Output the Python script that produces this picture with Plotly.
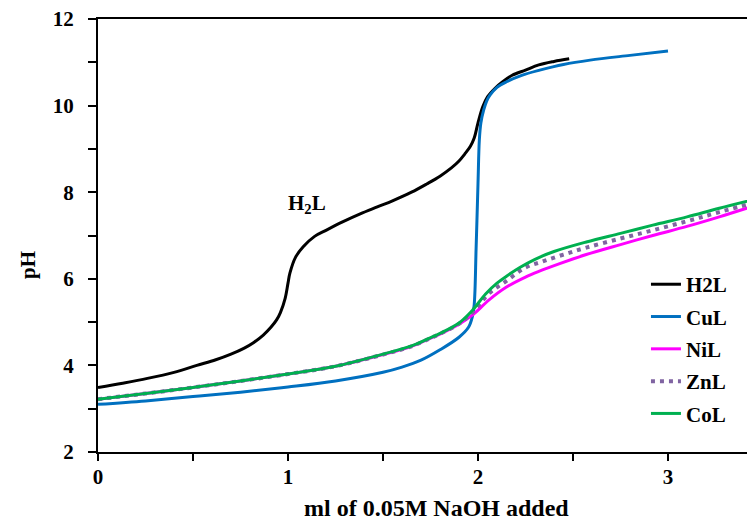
import plotly.graph_objects as go

# ---------------- data ----------------
h2l_x = [0, 0.13, 0.26, 0.40, 0.52, 0.62, 0.70, 0.77, 0.82, 0.87, 0.91, 0.94, 0.96, 0.985, 1.00, 1.01,
         1.04, 1.08, 1.14, 1.20, 1.29, 1.38, 1.47, 1.55, 1.65, 1.73, 1.80, 1.86, 1.90, 1.93, 1.96, 1.98, 2.00,
         2.025, 2.05, 2.09, 2.13, 2.18, 2.25, 2.32, 2.40, 2.48]
h2l_y = [3.49, 3.59, 3.70, 3.84, 4.00, 4.13, 4.26, 4.40, 4.53, 4.70, 4.88, 5.05, 5.22, 5.55, 5.90, 6.13,
         6.50, 6.74, 6.98, 7.12, 7.32, 7.50, 7.66, 7.80, 8.00, 8.19, 8.37, 8.56, 8.72, 8.88, 9.06, 9.25, 9.60,
         9.97, 10.20, 10.40, 10.55, 10.70, 10.82, 10.94, 11.02, 11.08]

cul_x = [0, 0.25, 0.50, 0.75, 1.00, 1.25, 1.50, 1.60, 1.70, 1.80, 1.90, 1.95, 1.97, 1.98, 1.99, 2.00,
         2.007, 2.015, 2.03, 2.045, 2.063, 2.10, 2.15, 2.23, 2.325, 2.45, 2.59, 2.80, 3.00]
cul_y = [3.10, 3.18, 3.28, 3.38, 3.50, 3.64, 3.84, 3.96, 4.12, 4.36, 4.65, 4.88, 5.12, 5.40, 6.70, 8.20,
         9.20, 9.60, 9.90, 10.10, 10.24, 10.42, 10.55, 10.70, 10.82, 10.95, 11.05, 11.16, 11.26]

nil_x = [0, 0.25, 0.50, 0.75, 1.00, 1.25, 1.50, 1.65, 1.745, 1.80, 1.90, 1.97, 2.06, 2.15, 2.25, 2.32,
         2.43, 2.57, 2.75, 2.92, 3.10, 3.27, 3.50]
nil_y = [3.22, 3.35, 3.49, 3.64, 3.80, 3.98, 4.25, 4.44, 4.62, 4.72, 4.95, 5.16, 5.52, 5.81, 6.04, 6.17,
         6.35, 6.56, 6.79, 7.00, 7.21, 7.43, 7.75]

znl_x = [0, 0.25, 0.50, 0.75, 1.00, 1.25, 1.50, 1.65, 1.745, 1.80, 1.90, 1.97, 2.06, 2.15, 2.245, 2.34,
         2.45, 2.57, 2.75, 2.92, 3.10, 3.27, 3.50]
znl_y = [3.22, 3.35, 3.49, 3.64, 3.80, 3.98, 4.25, 4.44, 4.62, 4.73, 4.96, 5.22, 5.67, 5.95, 6.25, 6.40,
         6.56, 6.72, 6.93, 7.12, 7.33, 7.54, 7.81]

col_x = [0, 0.25, 0.50, 0.75, 1.00, 1.25, 1.50, 1.65, 1.745, 1.80, 1.90, 1.97, 2.04, 2.10, 2.15, 2.22,
         2.30, 2.40, 2.57, 2.75, 2.92, 3.10, 3.27, 3.50]
col_y = [3.22, 3.35, 3.49, 3.64, 3.80, 3.98, 4.26, 4.45, 4.63, 4.74, 4.98, 5.27, 5.65, 5.90, 6.06, 6.26,
         6.45, 6.63, 6.85, 7.05, 7.24, 7.43, 7.63, 7.88]

series = [
    ("H2L", h2l_x, h2l_y, "#000000", "solid"),
    ("CuL", cul_x, cul_y, "#0070C0", "solid"),
    ("NiL", nil_x, nil_y, "#FF00FF", "solid"),
    ("ZnL", znl_x, znl_y, "#8064A2", "4px,5px"),
    ("CoL", col_x, col_y, "#00B050", "solid"),
]

x_ticks = [0, 1, 2, 3]
y_ticks = [2, 4, 6, 8, 10, 12]

FONT = "Liberation Serif, Times New Roman, serif"

# page body adds an 8px offset; geometry below compensates for it
L, T, PW, PH = 90, 11, 665, 433

fig = go.Figure()
for name, xs, ys, color, dash in series:
    fig.add_trace(go.Scatter(
        x=xs, y=ys, name=name, mode="lines", legendgroup=name,
        line=dict(color=color, width=3 if dash == "solid" else 4, dash=dash,
                  shape="spline", smoothing=1.0),
    ))

fig.update_layout(
    width=755, height=520,
    margin=dict(l=L, r=755 - L - PW, t=T, b=520 - T - PH),
    paper_bgcolor="white", plot_bgcolor="white",
    font=dict(family=FONT, size=21, color="black", weight="bold"),
    showlegend=True,
    legend=dict(x=0.824, y=0.434, xanchor="left", yanchor="top",
                bgcolor="rgba(0,0,0,0)", tracegroupgap=2,
                font=dict(family=FONT, size=21, color="black", weight="bold")),
    xaxis=dict(range=[0, 3.5], tickvals=x_ticks, ticks="outside", ticklen=7, tickwidth=1.5,
               tickcolor="black", showline=True, linecolor="black", linewidth=2,
               mirror=True, showgrid=False, zeroline=False, automargin=False,
               ticklabelstandoff=-2, ticklabeloverflow="allow",
               tickfont=dict(family=FONT, size=21, color="black", weight="bold"),
               minor=dict(dtick=0.5, ticks="outside", ticklen=7, tickwidth=1.5,
                          tickcolor="black", showgrid=False)),
    yaxis=dict(range=[2, 12], tickvals=y_ticks, ticks="outside", ticklen=8, tickwidth=1.5,
               tickcolor="black", showline=True, linecolor="black", linewidth=2,
               showgrid=False, zeroline=False, ticklabelstandoff=10, automargin=False,
               ticklabeloverflow="allow",
               tickfont=dict(family=FONT, size=21, color="black", weight="bold"),
               minor=dict(dtick=1, ticks="outside", ticklen=8, tickwidth=1.5,
                          tickcolor="black", showgrid=False)),
)

fig.add_annotation(text="pH", textangle=-90, xref="paper", yref="paper",
                   x=(20 - L) / PW, y=(T + PH - 257) / PH, showarrow=False,
                   xanchor="center", yanchor="middle",
                   font=dict(family=FONT, size=21, color="black", weight="bold"))
fig.add_annotation(text="ml of 0.05M NaOH added", xref="paper", yref="paper",
                   x=(428 - L) / PW, y=(T + PH - 500) / PH, showarrow=False,
                   xanchor="center", yanchor="middle",
                   font=dict(family=FONT, size=24, color="black", weight="bold"))
fig.add_annotation(text="H<sub>2</sub>L", xref="x", yref="y", x=1.10, y=7.72,
                   showarrow=False, xanchor="center", yanchor="middle",
                   font=dict(family=FONT, size=21, color="black", weight="bold"))

fig.write_html("out.html")
